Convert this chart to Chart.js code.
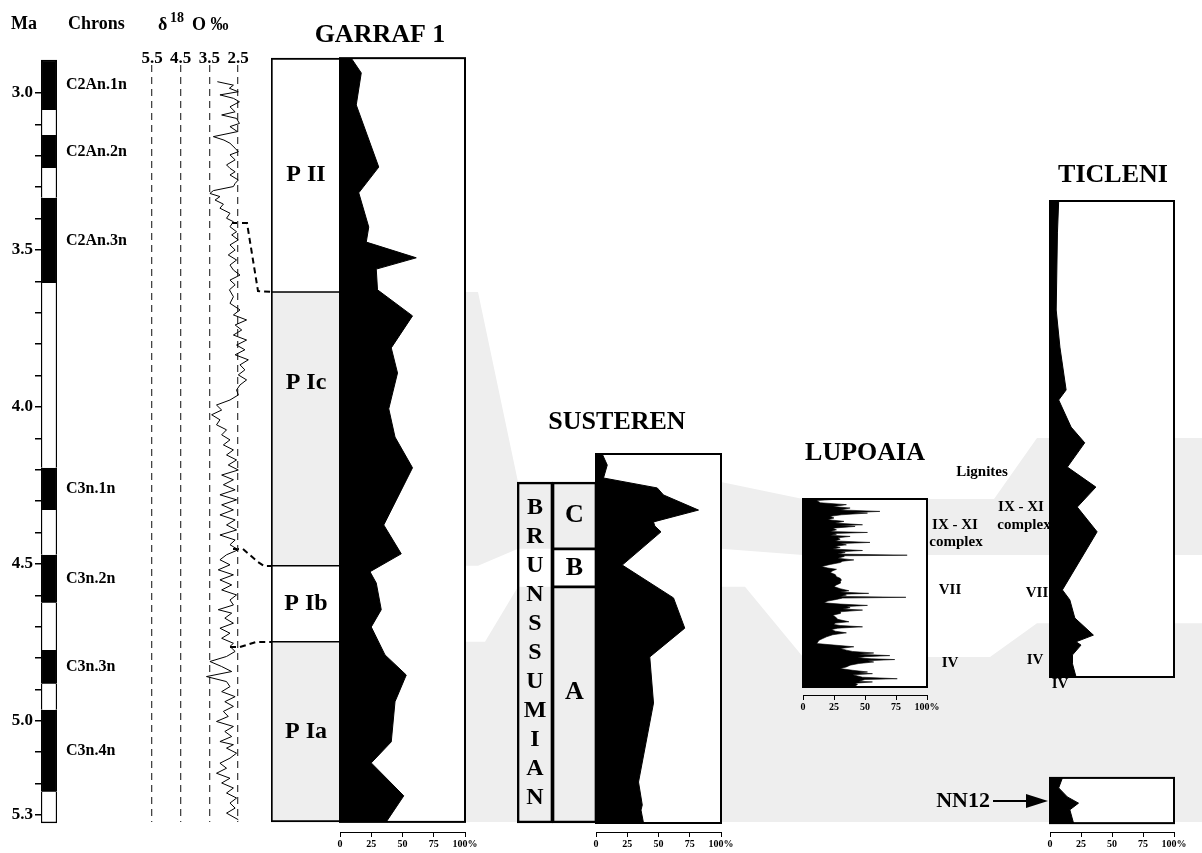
<!DOCTYPE html>
<html>
<head>
<meta charset="utf-8">
<title>Garraf 1 and European pollen records</title>
<script src="https://cdn.jsdelivr.net/npm/chart.js@4.4.1/dist/chart.umd.min.js"></script>
<style>
  html, body { margin: 0; padding: 0; background: #fff; }
  body { position: relative; width: 1202px; height: 853px; overflow: hidden; }
  canvas { position: absolute; }
</style>
</head>
<body>
<script>
// ---------- data ----------
// magnetic polarity chrons (Ma), top to bottom; named ones are normal (black)
const chronBounds = [2.895, 3.054, 3.134, 3.239, 3.334, 3.605, 4.194, 4.328, 4.471, 4.624, 4.774, 4.882, 4.965, 5.226, 5.325];
const chronNames = ['C2An.1n', '', 'C2An.2n', '', 'C2An.3n', '', 'C3n.1n', '', 'C3n.2n', '', 'C3n.3n', '', 'C3n.4n', ''];
const maLabels = [3.0, 3.5, 4.0, 4.5, 5.0, 5.3];

// benthic d18O (per mil) against age (Ma)
const d18oAge = [2.964, 2.975, 2.985, 2.996, 3.006, 3.017, 3.028, 3.044, 3.060, 3.070, 3.081, 3.097, 3.107, 3.123, 3.139, 3.150, 3.160, 3.176, 3.187, 3.197,
  3.213, 3.229, 3.240, 3.251, 3.261, 3.277, 3.288, 3.298, 3.311, 3.320, 3.330, 3.341, 3.354, 3.367, 3.383, 3.399, 3.410, 3.426, 3.442, 3.452,
  3.468, 3.484, 3.500, 3.516, 3.532, 3.548, 3.564, 3.580, 3.596, 3.611, 3.627, 3.649,
  3.670, 3.691, 3.707, 3.723, 3.739, 3.755, 3.771, 3.787, 3.803, 3.818, 3.834, 3.850, 3.866, 3.882, 3.898, 3.914, 3.930, 3.946, 3.962, 3.978,
  3.994, 4.010, 4.025, 4.041, 4.057, 4.073, 4.089, 4.105, 4.121, 4.137, 4.153, 4.169, 4.185, 4.201, 4.217, 4.232, 4.248, 4.264, 4.280, 4.296,
  4.312, 4.328, 4.344, 4.360, 4.376, 4.392, 4.408, 4.424, 4.439, 4.455, 4.471, 4.487, 4.503, 4.519, 4.535, 4.551, 4.567, 4.583,
  4.599, 4.615, 4.631, 4.646, 4.657, 4.673, 4.689, 4.705, 4.721, 4.737, 4.753, 4.763, 4.779, 4.795, 4.811, 4.827, 4.843, 4.859, 4.875, 4.891,
  4.907, 4.923, 4.939, 4.954, 4.970, 4.986, 5.002, 5.018, 5.034, 5.050, 5.066, 5.076, 5.087, 5.103, 5.119, 5.135, 5.151, 5.167, 5.183, 5.198,
  5.214, 5.230, 5.246, 5.262, 5.278, 5.294, 5.315];
const d18oValue = [3.22, 2.66, 2.80, 2.49, 3.13, 2.66, 2.45, 2.78, 2.60, 3.07, 2.55, 2.45, 2.78, 2.52, 3.36, 2.99, 2.78, 2.60, 2.49, 2.78,
  2.60, 2.90, 2.78, 2.60, 2.78, 2.49, 2.60, 2.66, 3.36, 3.48, 3.13, 3.30, 3.01, 3.13, 2.78, 2.90, 2.66, 2.78, 2.55, 2.72,
  2.49, 2.78, 2.60, 2.84, 2.55, 2.78, 2.66, 2.43, 2.78, 2.60, 2.80, 2.66,
  2.78, 2.43, 2.66, 2.20, 2.60, 2.37, 2.66, 2.20, 2.55, 2.26, 2.60, 2.14, 2.43, 2.26, 2.49, 2.20, 2.43, 2.55, 2.49, 2.78,
  3.25, 3.07, 3.42, 3.13, 3.25, 2.90, 3.07, 2.78, 3.01, 2.66, 2.90, 2.55, 2.84, 2.49, 3.07, 2.66, 3.01, 2.60, 3.13, 2.55,
  3.07, 2.66, 3.13, 2.60, 2.90, 2.55, 3.13, 2.60, 2.78, 2.49, 2.90, 3.13, 2.78, 3.19, 2.66, 3.13, 2.72, 3.07,
  2.55, 2.78, 2.66, 3.19, 2.72, 2.96, 2.66, 3.13, 2.78, 3.07, 2.66, 2.78, 2.60, 2.90, 3.48, 3.07, 2.72, 3.60, 2.90, 2.78,
  3.07, 2.60, 2.96, 2.66, 3.01, 2.84, 3.25, 2.66, 2.96, 2.72, 3.13, 2.66, 2.90, 2.55, 2.78, 3.13, 2.90, 3.25, 2.78, 3.07,
  2.66, 2.90, 2.55, 2.78, 2.60, 2.90, 2.49];
const d18oTicks = [5.5, 4.5, 3.5, 2.5];

// Garraf 1 pollen percentage (Ma)
const garrafAge = [2.889, 2.936, 3.038, 3.236, 3.318, 3.427, 3.475, 3.525, 3.561, 3.627, 3.710, 3.812, 3.892, 4.006, 4.096,
  4.194, 4.376, 4.468, 4.525, 4.561, 4.646, 4.701, 4.790, 4.854, 4.939, 5.067, 5.134, 5.239, 5.322];
const garrafPct = [9, 17, 13, 31, 15, 23, 21, 61, 29, 30, 58, 41, 46, 39, 44,
  58, 35, 49, 24, 29, 33, 25, 36, 53, 44, 41, 25, 51, 37];
const garrafZones = ['P II', 'P Ic', 'P Ib', 'P Ia'];
const garrafZoneBounds = [2.889, 3.634, 4.506, 4.748, 5.322];

// Susteren (relative depth in section, 0 = top)
const susDepth = [0, 3.0, 6.5, 9.2, 11.1, 15.2, 18.4, 19.5, 21.1, 30.1, 39.0, 47.2, 55.0, 67.5, 88.9, 95.1, 96.5, 100];
const susPct = [5, 9, 6, 49, 54, 82, 46, 47, 52, 21, 62, 71, 43, 46, 34, 37, 36, 38];
const susStage = ['BRUNSSUMIAN'];
const susStageBounds = [7.6, 100];
const susZones = ['C', 'B', 'A'];
const susZoneBounds = [7.6, 25.7, 36.0, 100];

// Lupoaia (relative depth)
const lupDepth = [0, 0.8, 2, 3, 4, 4.8, 5.8, 6.6, 7.2, 7.5, 8.4, 9.2, 10.1, 11, 11.9, 12.8, 13.7, 14.2, 14.6, 15.5,
  16.4, 17.3, 17.8, 18.3, 18.7, 19.3, 19.9, 20.6, 21.4, 22.3, 23.1, 23.7, 24.4, 25.1, 25.8, 26.6, 27.4, 28, 28.5, 29.3,
  29.9, 30.2, 30.6, 31.5, 32.4, 33.1, 33.8, 34.8, 35.9, 36.7, 37.4, 38.2, 39.1, 40.2, 41.3, 42.2, 43.1, 44, 44.8, 45.7,
  46.6, 47.7, 48.8, 49.5, 50.2, 50.6, 51.1, 51.8, 52.3, 52.7, 53.4, 54.3, 55.2, 55.9, 56.6, 57.2, 57.8, 58.5, 59.1, 60,
  60.9, 61.8, 62.6, 64, 65.3, 66, 66.7, 67.3, 68, 68.7, 69.4, 70.3, 71.2, 72.2, 73.3, 74.2, 75.1, 76, 76.9, 77.7,
  78.6, 79.5, 80.4, 81.1, 81.9, 82.6, 83.3, 83.9, 84.5, 85, 85.4, 86, 86.7, 87.5, 88.4, 89.3, 90.2, 91.1, 92, 92.5,
  92.9, 93.5, 94.1, 94.8, 95.6, 96, 96.4, 96.9, 97.3, 98, 98.6, 99.6, 100];
const lupPct = [30, 11, 14, 35, 24, 38, 30, 62, 40, 52, 31, 22, 25, 20, 33, 26, 48, 30, 42, 24,
  27, 22, 52, 25, 27, 22, 38, 28, 30, 26, 54, 30, 35, 26, 30, 24, 48, 30, 34, 28,
  84, 33, 33, 28, 41, 32, 30, 22, 15, 20, 27, 24, 22, 26, 27, 30, 31, 30, 30, 27,
  25, 30, 37, 30, 53, 33, 35, 30, 83, 32, 27, 20, 17, 30, 52, 35, 38, 32, 48, 30,
  30, 24, 26, 28, 37, 26, 25, 30, 48, 28, 23, 26, 35, 24, 19, 16, 13, 12, 11, 25,
  41, 30, 35, 40, 57, 45, 70, 50, 44, 55, 74, 52, 57, 45, 38, 35, 30, 40, 52, 45,
  56, 40, 44, 48, 76, 50, 48, 45, 56, 42, 44, 42, 45];

// Ticleni (relative depth) and the lower NN12 interval
const ticDepth = [0, 6.7, 22.9, 30.7, 39.7, 41.8, 47.5, 50.8, 55.9, 60.1, 64.3, 69.5, 81.7, 83.8, 87.6, 91.2, 92.6, 93.3, 95.4, 97.1, 100];
const ticPct = [7, 6, 5, 8, 13, 7, 17, 28, 14, 37, 22, 38, 10, 16, 20, 35, 21, 25, 18, 18, 21];
const nnDepth = [121.2, 123.3, 125.2, 126.5, 127.9, 130.7];
const nnPct = [10, 7, 14, 23, 16, 19];

const pctTicks = [0, 25, 50, 75, 100];

// ---------- layout ----------
const FONT = "'Liberation Serif', 'Times New Roman', serif";
const bold = (s) => `bold ${s}px ${FONT}`;
const BAND = '#eeeeee';
Chart.defaults.layout.autoPadding = false;

// page y of two reference levels for each column
const PANELS = {
  ma:  { y0: 93,  v0: 3.0, y1: 815, v1: 5.3 },
  sus: { y0: 454, v0: 0,   y1: 823, v1: 100 },
  lup: { y0: 499, v0: 0,   y1: 687, v1: 100 },
  tic: { y0: 201, v0: 0,   y1: 677, v1: 100 }
};
const lvlToPy = (p, v) => p.y0 + (v - p.v0) * (p.y1 - p.y0) / (p.v1 - p.v0);
const pyToLvl = (p, y) => p.v0 + (y - p.y0) * (p.v1 - p.v0) / (p.y1 - p.y0);

function makeCanvas(left, top, width, height) {
  const c = document.createElement('canvas');
  c.width = width; c.height = height;
  c.style.left = left + 'px'; c.style.top = top + 'px';
  c.style.width = width + 'px'; c.style.height = height + 'px';
  document.body.appendChild(c);
  return c;
}

const baseOpts = {
  responsive: false, animation: false, devicePixelRatio: 1, events: [],
};
const noPlugins = { legend: { display: false }, tooltip: { enabled: false } };

// ---------- background: correlation bands, connectors, text ----------
const bands = [
  { top: [[272, 'ma', 3.634], [478, 'ma', 3.634], [518, 'sus', 7.6], [721, 'sus', 7.6], [803, 'lup', 0], [994, 'lup', 0], [1037, 'tic', 49.8], [1202, 'tic', 49.8]],
    bottom: [[272, 'ma', 4.506], [478, 'ma', 4.506], [518, 'sus', 25.7], [721, 'sus', 25.7], [803, 'lup', 29.8], [1202, 'lup', 29.8]] },
  { top: [[272, 'ma', 4.748], [485, 'ma', 4.748], [518, 'sus', 36.0], [745, 'sus', 36.0], [803, 'lup', 84.0], [990, 'lup', 84.0], [1037, 'tic', 88.7], [1202, 'tic', 88.7]],
    bottom: [[272, 'ma', 5.322], [1202, 'ma', 5.322]] }
];
const toPts = (edge) => edge.map(([x, k, v]) => ({ x, y: lvlToPy(PANELS[k], v) }));

const connectors = [
  [[232, 223], [247, 223], [258, 291], [272, 292]],
  [[233, 549], [243, 549], [258, 562], [264, 566], [272, 566]],
  [[230, 647], [240, 647], [256, 642], [272, 642]]
];
const ARROW = { x0: 993, tip: 1048, base: 1026, y: 801, half: 7 };

const TEXTS = [
  { t: 'Ma', x: 11, y: 24, s: 18, a: 'left' },
  { t: 'Chrons', x: 68, y: 24, s: 18, a: 'left' },
  { t: 'δ', x: 158, y: 25, s: 18, a: 'left' },
  { t: '18', x: 170, y: 18, s: 14, a: 'left' },
  { t: 'O ‰', x: 192, y: 25, s: 18, a: 'left' },
  { t: 'GARRAF 1', x: 380, y: 35, s: 26 },
  { t: 'SUSTEREN', x: 617, y: 422, s: 26 },
  { t: 'LUPOAIA', x: 865, y: 453, s: 26 },
  { t: 'TICLENI', x: 1113, y: 175, s: 26 },
  { t: 'Lignites', x: 982, y: 472, s: 15 },
  { t: 'IX - XI', x: 955, y: 525, s: 15 },
  { t: 'complex', x: 956, y: 542, s: 15 },
  { t: 'VII', x: 950, y: 590, s: 15 },
  { t: 'IV', x: 950, y: 663, s: 15 },
  { t: 'IX - XI', x: 1021, y: 507, s: 15 },
  { t: 'complex', x: 1024, y: 525, s: 15 },
  { t: 'VII', x: 1037, y: 593, s: 15 },
  { t: 'IV', x: 1035, y: 660, s: 15 },
  { t: 'IV', x: 1060, y: 684, s: 15 },
  { t: 'NN12', x: 990, y: 801, s: 22, a: 'right' }
];

const textLayer = {
  id: 'textLayer',
  afterDatasetsDraw(chart) {
    const { ctx, scales: { x, y } } = chart;
    ctx.save();
    // NN12 arrow
    ctx.strokeStyle = '#000';
    ctx.lineWidth = 2;
    ctx.beginPath();
    ctx.moveTo(x.getPixelForValue(ARROW.x0), y.getPixelForValue(ARROW.y));
    ctx.lineTo(x.getPixelForValue(ARROW.base), y.getPixelForValue(ARROW.y));
    ctx.stroke();
    ctx.fillStyle = '#000';
    ctx.beginPath();
    ctx.moveTo(x.getPixelForValue(ARROW.tip), y.getPixelForValue(ARROW.y));
    ctx.lineTo(x.getPixelForValue(ARROW.base), y.getPixelForValue(ARROW.y - ARROW.half));
    ctx.lineTo(x.getPixelForValue(ARROW.base), y.getPixelForValue(ARROW.y + ARROW.half));
    ctx.closePath();
    ctx.fill();

    ctx.textBaseline = 'middle';
    TEXTS.forEach(o => {
      ctx.font = bold(o.s);
      ctx.textAlign = o.a || 'center';
      ctx.fillText(o.t, x.getPixelForValue(o.x), y.getPixelForValue(o.y));
    });
    // chron names beside the normal-polarity intervals
    ctx.font = bold(16);
    ctx.textAlign = 'left';
    chronNames.forEach((nm, i) => {
      if (!nm) return;
      const mid = (chronBounds[i] + chronBounds[i + 1]) / 2;
      ctx.fillText(nm, x.getPixelForValue(66), y.getPixelForValue(lvlToPy(PANELS.ma, mid)));
    });
    ctx.restore();
  }
};

const bgDatasets = [];
bands.forEach(b => {
  bgDatasets.push({ data: toPts(b.top), showLine: true, pointRadius: 0, borderColor: 'rgba(0,0,0,0)', backgroundColor: BAND, fill: '+1' });
  bgDatasets.push({ data: toPts(b.bottom), showLine: true, pointRadius: 0, borderColor: 'rgba(0,0,0,0)', fill: false });
});
connectors.forEach(c => {
  bgDatasets.push({ data: c.map(([x, y]) => ({ x, y })), showLine: true, pointRadius: 0, borderColor: '#000', borderWidth: 2, borderDash: [6, 4], fill: false });
});

new Chart(makeCanvas(0, 0, 1202, 853), {
  type: 'scatter',
  data: { datasets: bgDatasets },
  options: {
    ...baseOpts,
    layout: { padding: 0 },
    plugins: noPlugins,
    scales: {
      x: { type: 'linear', min: 0, max: 1202, display: false },
      y: { type: 'linear', min: 0, max: 853, reverse: true, display: false }
    }
  },
  plugins: [textLayer]
});

// ---------- chrons column with the Ma axis ----------
const maTicks = [];
for (let i = 30; i <= 53; i++) maTicks.push(i / 10);

new Chart(makeCanvas(0, 40, 60, 813), {
  type: 'bar',
  data: {
    labels: ['chrons'],
    datasets: chronNames.map((nm, i) => ({
      label: nm || 'reversed',
      data: [[chronBounds[i], chronBounds[i + 1]]],
      backgroundColor: nm ? '#000' : '#fff',
      borderColor: '#000',
      borderWidth: { left: 1.5, right: 1.5, top: i === 0 ? 1.5 : 0, bottom: i === chronNames.length - 1 ? 1.5 : 0 },
      borderSkipped: false
    }))
  },
  options: {
    ...baseOpts,
    layout: { padding: { top: 14, bottom: 14, left: 0, right: 3 } },
    plugins: noPlugins,
    datasets: { bar: { grouped: false, barPercentage: 1, categoryPercentage: 1 } },
    scales: {
      x: { display: false },
      y: {
        type: 'linear', reverse: true,
        min: pyToLvl(PANELS.ma, 54), max: pyToLvl(PANELS.ma, 839),
        afterFit: a => { a.width = 41; },
        afterBuildTicks: a => { a.ticks = maTicks.map(v => ({ value: v })); },
        ticks: {
          autoSkip: false, color: '#000', padding: 2,
          font: { family: FONT, size: 17, weight: 'bold' },
          callback: v => maLabels.some(m => Math.abs(m - v) < 1e-6) ? v.toFixed(1) : ''
        },
        grid: { drawOnChartArea: false, drawTicks: true, tickLength: 6, color: '#000', lineWidth: 1.5 },
        border: { display: false }
      }
    }
  }
});

// ---------- d18O curve ----------
const dTop = 43, dAxisH = 22, dBottom = 822;
new Chart(makeCanvas(136, dTop, 118, dBottom - dTop), {
  type: 'line',
  data: { datasets: [{ data: d18oAge.map((a, i) => ({ x: d18oValue[i], y: a })), borderColor: '#000', borderWidth: 1, pointRadius: 0, tension: 0, fill: false, clip: false }] },
  options: {
    ...baseOpts,
    indexAxis: 'y',
    layout: { padding: { left: 16, right: 16, top: 0, bottom: 0 } },
    plugins: noPlugins,
    scales: {
      x: {
        type: 'linear', position: 'top', reverse: true, min: 2.5, max: 5.5,
        afterFit: a => { a.height = dAxisH; },
        afterBuildTicks: a => { a.ticks = d18oTicks.map(v => ({ value: v })); },
        ticks: { autoSkip: false, maxRotation: 0, color: '#000', padding: -4, font: { family: FONT, size: 17, weight: 'bold' }, callback: v => v.toFixed(1) },
        grid: { drawTicks: false, color: '#444', lineWidth: 1.3 },
        border: { display: false, dash: [7, 5] }
      },
      y: { type: 'linear', reverse: true, display: false, min: pyToLvl(PANELS.ma, dTop + dAxisH), max: pyToLvl(PANELS.ma, dBottom) }
    }
  }
});

// ---------- zone columns (floating bars) ----------
const zoneLabels = {
  id: 'zoneLabels',
  afterDatasetsDraw(chart, args, opts) {
    const { ctx } = chart;
    ctx.save();
    ctx.fillStyle = '#000';
    ctx.font = bold(opts.size);
    ctx.textAlign = 'center';
    ctx.textBaseline = 'middle';
    chart.data.datasets.forEach((ds, i) => {
      const bar = chart.getDatasetMeta(i).data[0];
      const at = opts.labelAt && opts.labelAt[i] != null ? chart.scales.y.getPixelForValue(opts.labelAt[i]) : (bar.y + bar.base) / 2;
      if (opts.step) {
        const letters = ds.label.split('');
        const start = at - opts.step * (letters.length - 1) / 2;
        letters.forEach((ch, k) => ctx.fillText(ch, bar.x, start + k * opts.step));
      } else {
        ctx.fillText(ds.label, bar.x, at);
      }
    });
    ctx.restore();
  }
};

function zoneColumn(cfg) {
  const n = cfg.names.length;
  new Chart(makeCanvas(cfg.left, cfg.top, cfg.right - cfg.left, cfg.bottom - cfg.top), {
    type: 'bar',
    data: {
      labels: ['zones'],
      datasets: cfg.names.map((nm, i) => ({
        label: nm,
        data: [[cfg.bounds[i], cfg.bounds[i + 1]]],
        backgroundColor: cfg.fills[i],
        borderColor: '#000',
        borderWidth: { left: 2, right: 2, top: i === 0 ? 2 : 1, bottom: i === n - 1 ? 2 : 1 },
        borderSkipped: false
      }))
    },
    options: {
      ...baseOpts,
      layout: { padding: 0 },
      plugins: { ...noPlugins, zoneLabels: { size: cfg.size, labelAt: cfg.labelAt, step: cfg.step } },
      datasets: { bar: { grouped: false, barPercentage: 1, categoryPercentage: 1 } },
      scales: {
        x: { display: false },
        y: { type: 'linear', reverse: true, display: false, min: pyToLvl(cfg.panel, cfg.top), max: pyToLvl(cfg.panel, cfg.bottom) }
      }
    },
    plugins: [zoneLabels]
  });
}

// ---------- pollen profiles ----------
const sectionBox = {
  id: 'sectionBox',
  beforeDatasetsDraw(chart, args, opts) {
    const { ctx, scales: { x, y } } = chart;
    ctx.save();
    ctx.fillStyle = '#fff';
    opts.boxes.forEach(([a, b]) => {
      const x0 = x.getPixelForValue(0), x1 = x.getPixelForValue(100);
      ctx.fillRect(x0, y.getPixelForValue(a), x1 - x0, y.getPixelForValue(b) - y.getPixelForValue(a));
    });
    ctx.restore();
  },
  afterDatasetsDraw(chart, args, opts) {
    const { ctx, scales: { x, y } } = chart;
    ctx.save();
    ctx.strokeStyle = '#000';
    ctx.lineWidth = 2;
    opts.boxes.forEach(([a, b]) => {
      const x0 = x.getPixelForValue(0), x1 = x.getPixelForValue(100);
      ctx.strokeRect(x0, y.getPixelForValue(a), x1 - x0, y.getPixelForValue(b) - y.getPixelForValue(a));
    });
    ctx.restore();
  }
};

function profile(cfg) {
  const padL = 8, padR = 18, axisH = 22;
  const left = cfg.x0 - padL;
  const width = cfg.x1 - cfg.x0 + padL + padR;
  new Chart(makeCanvas(left, cfg.top, width, cfg.axisY + axisH - cfg.top), {
    type: 'line',
    data: {
      datasets: cfg.series.map(s => ({
        data: s.lvl.map((v, i) => ({ x: s.pct[i], y: v })),
        fill: 'origin', backgroundColor: '#000', borderColor: '#000',
        borderWidth: cfg.lw || 1, pointRadius: 0, tension: 0
      }))
    },
    options: {
      ...baseOpts,
      indexAxis: 'y',
      layout: { padding: { left: padL, right: padR, top: 0, bottom: 0 } },
      plugins: { ...noPlugins, sectionBox: { boxes: cfg.boxes } },
      scales: {
        x: {
          type: 'linear', position: 'bottom', min: 0, max: 100,
          afterFit: a => { a.height = axisH; },
          afterBuildTicks: a => { a.ticks = pctTicks.map(v => ({ value: v })); },
          ticks: { autoSkip: false, maxRotation: 0, color: '#000', padding: 1, font: { family: FONT, size: 10, weight: 'bold' }, callback: v => v === 100 ? '100%' : String(v) },
          grid: { drawOnChartArea: false, drawTicks: true, tickLength: 5, color: '#000', lineWidth: 1 },
          border: { display: true, color: '#000', width: 1 }
        },
        y: { type: 'linear', reverse: true, display: false, min: pyToLvl(cfg.panel, cfg.top), max: pyToLvl(cfg.panel, cfg.axisY) }
      }
    },
    plugins: [sectionBox]
  });
}

// Garraf 1
zoneColumn({ panel: PANELS.ma, left: 271, right: 341, top: 56, bottom: 825, names: garrafZones, bounds: garrafZoneBounds,
  fills: ['#fff', BAND, '#fff', BAND], size: 24, labelAt: [null, pyToLvl(PANELS.ma, 383), null, null] });
profile({ panel: PANELS.ma, x0: 340, x1: 465, top: 56, axisY: 832,
  series: [{ lvl: garrafAge, pct: garrafPct }], boxes: [[garrafZoneBounds[0], garrafZoneBounds[garrafZoneBounds.length - 1]]] });

// Susteren
zoneColumn({ panel: PANELS.sus, left: 517, right: 553, top: 478, bottom: 826, names: susStage, bounds: susStageBounds,
  fills: ['rgba(0,0,0,0)'], size: 24, step: 29 });
zoneColumn({ panel: PANELS.sus, left: 552, right: 597, top: 478, bottom: 826, names: susZones, bounds: susZoneBounds,
  fills: ['rgba(0,0,0,0)', 'rgba(0,0,0,0)', 'rgba(0,0,0,0)'], size: 26, labelAt: [null, null, pyToLvl(PANELS.sus, 692)] });
profile({ panel: PANELS.sus, x0: 596, x1: 721, top: 452, axisY: 832,
  series: [{ lvl: susDepth, pct: susPct }], boxes: [[0, 100]] });

// Lupoaia
profile({ panel: PANELS.lup, x0: 803, x1: 927, top: 497, axisY: 695, lw: 0.6,
  series: [{ lvl: lupDepth, pct: lupPct }], boxes: [[0, 100]] });

// Ticleni + NN12
profile({ panel: PANELS.tic, x0: 1050, x1: 1174, top: 199, axisY: 832,
  series: [{ lvl: ticDepth, pct: ticPct }, { lvl: nnDepth, pct: nnPct }],
  boxes: [[0, 100], [nnDepth[0], nnDepth[nnDepth.length - 1]]] });
</script>
</body>
</html>
